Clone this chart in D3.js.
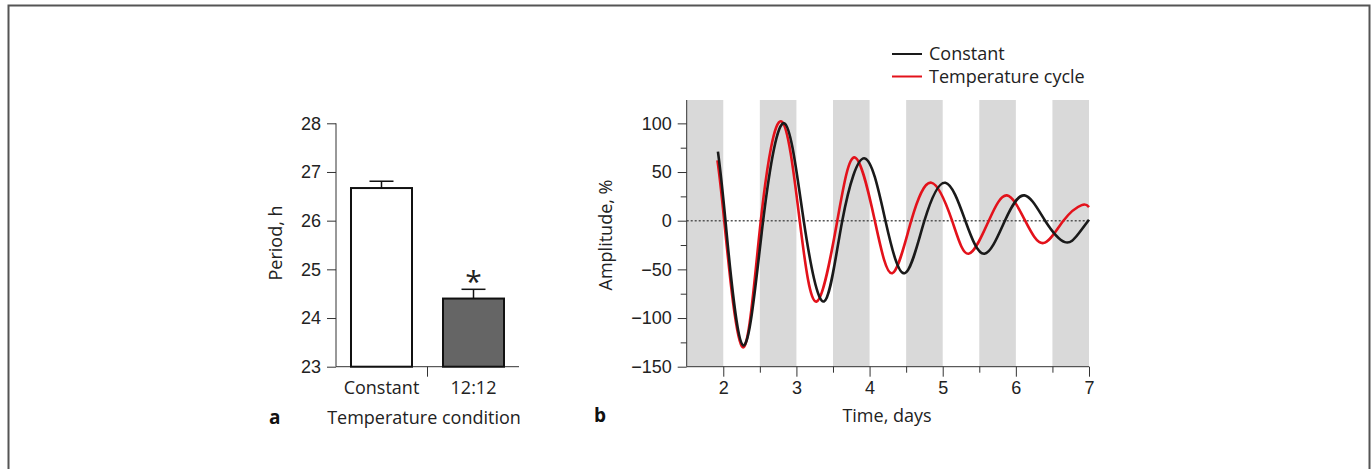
<!DOCTYPE html>
<html>
<head>
<meta charset="utf-8">
<script src="https://cdn.jsdelivr.net/npm/d3@7"></script>
<style>
  body { margin: 0; background: #fff; }
  svg { display: block; font-family: "Open Sans", sans-serif; }
  .tick text { font-size: 18px; fill: #222; }
  .tick line, .domain { stroke: #333; }
</style>
</head>
<body>
<svg width="1372" height="469"></svg>
<script>
// Panel a: period under each temperature condition
const conditions = ["Constant", "12:12"];
const periods = [26.67, 24.4];
const periodErrors = [0.14, 0.19];
const periodTicks = [23, 24, 25, 26, 27, 28];

// Panel b: detrended amplitude over time
const constantDays = [1.927, 2.03, 2.272, 2.545, 2.836, 3.1, 3.377, 3.627, 3.936, 4.217, 4.48, 4.75, 5.036, 5.309, 5.57, 5.85, 6.118, 6.4, 6.67, 6.85, 7.0];
const constantAmp  = [71, 0, -128, 0, 100, 0, -83, 0, 64, 0, -54, 0, 39, 0, -34, 0, 26, 0, -22, -14, 1];
const cycleDays = [1.92, 2.013, 2.264, 2.513, 2.795, 3.045, 3.277, 3.559, 3.8, 4.072, 4.31, 4.57, 4.845, 5.128, 5.354, 5.63, 5.877, 6.127, 6.377, 6.65, 6.9, 7.0];
const cycleAmp  = [62, 0, -130, 0, 102, 0, -83, 0, 65, 0, -54, 0, 39, 0, -34, 0, 26, 0, -23, 0, 16, 14];
const coldPhases = [[1.5, 2], [2.5, 3], [3.5, 4], [4.5, 5], [5.5, 6], [6.5, 7]];
const seriesNames = ["Constant", "Temperature cycle"];
const seriesColors = ["#1a1a1a", "#e3121b"];

const svg = d3.select("svg");

// outer frame
svg.append("rect")
  .attr("x", 8.5).attr("y", 5.5)
  .attr("width", 1361).attr("height", 500)
  .attr("fill", "none").attr("stroke", "#555").attr("stroke-width", 2);

// ---------- panel a ----------
const ya = d3.scaleLinear().domain([23, 28]).range([366.7, 123.3]);
const xa = d3.scaleBand().domain(conditions).range([336, 519])
  .paddingInner(0.337).paddingOuter(0.163);

const ga = svg.append("g");

ga.append("g")
  .attr("transform", "translate(336,0)")
  .call(d3.axisLeft(ya).tickValues(periodTicks).tickSize(9).tickPadding(6).tickFormat(d3.format("d")))
  .call(g => g.select(".domain").attr("d", `M0,${ya(28)}V${ya(23)}`));

// x baseline + middle divider tick
ga.append("line")
  .attr("x1", 336).attr("x2", 519)
  .attr("y1", ya(23)).attr("y2", ya(23))
  .attr("stroke", "#333");
ga.append("line")
  .attr("x1", 427.5).attr("x2", 427.5)
  .attr("y1", ya(23)).attr("y2", ya(23) + 10)
  .attr("stroke", "#333");

// error bars first, bars on top
conditions.forEach((c, i) => {
  const cx = xa(c) + xa.bandwidth() / 2;
  ga.append("line")
    .attr("x1", cx).attr("x2", cx)
    .attr("y1", ya(periods[i])).attr("y2", ya(periods[i] + periodErrors[i]))
    .attr("stroke", "#111").attr("stroke-width", 1.5);
  ga.append("line")
    .attr("x1", cx - 12).attr("x2", cx + 12)
    .attr("y1", ya(periods[i] + periodErrors[i])).attr("y2", ya(periods[i] + periodErrors[i]))
    .attr("stroke", "#111").attr("stroke-width", 1.5);
});

ga.selectAll("rect.bar")
  .data(conditions)
  .join("rect")
  .attr("class", "bar")
  .attr("x", d => xa(d))
  .attr("width", xa.bandwidth())
  .attr("y", (d, i) => ya(periods[i]))
  .attr("height", (d, i) => ya(23) - ya(periods[i]))
  .attr("fill", (d, i) => i === 0 ? "#fff" : "#656565")
  .attr("stroke", "#111").attr("stroke-width", 2);

ga.selectAll("text.cat")
  .data(conditions)
  .join("text")
  .attr("class", "cat")
  .attr("x", d => xa(d) + xa.bandwidth() / 2)
  .attr("y", 394)
  .attr("text-anchor", "middle")
  .attr("font-size", 18).attr("fill", "#222")
  .text(d => d);

ga.append("text")
  .attr("x", xa("12:12") + xa.bandwidth() / 2)
  .attr("y", 292)
  .attr("text-anchor", "middle")
  .attr("font-size", 30).attr("fill", "#222")
  .text("*");

ga.append("text")
  .attr("x", 424).attr("y", 424)
  .attr("text-anchor", "middle")
  .attr("font-size", 18).attr("fill", "#222")
  .text("Temperature condition");

ga.append("text")
  .attr("transform", "translate(282,243) rotate(-90)")
  .attr("text-anchor", "middle")
  .attr("font-size", 18).attr("fill", "#222")
  .text("Period, h");

ga.append("text")
  .attr("x", 269).attr("y", 424)
  .attr("font-size", 19).attr("font-weight", "bold").attr("fill", "#111")
  .text("a");

// ---------- panel b ----------
const xb = d3.scaleLinear().domain([1.5, 7]).range([686.7, 1089]);
const yb = d3.scaleLinear().domain([-150, 124]).range([366.7, 100]);

const gb = svg.append("g");

gb.selectAll("rect.phase")
  .data(coldPhases)
  .join("rect")
  .attr("class", "phase")
  .attr("x", d => xb(d[0]))
  .attr("width", d => xb(d[1]) - xb(d[0]))
  .attr("y", yb(124))
  .attr("height", yb(-150) - yb(124))
  .attr("fill", "#d9d9d9");

// zero line
gb.append("line")
  .attr("x1", xb(1.5)).attr("x2", xb(7))
  .attr("y1", yb(0)).attr("y2", yb(0))
  .attr("stroke", "#555").attr("stroke-width", 1.5)
  .attr("stroke-dasharray", "2,2");

// minor ticks
gb.append("g")
  .attr("transform", "translate(686.7,0)")
  .call(d3.axisLeft(yb).tickValues([-125, -75, -25, 25, 75]).tickSize(6).tickFormat(""))
  .call(g => g.select(".domain").remove());
gb.append("g")
  .attr("transform", `translate(0,${yb(-150)})`)
  .call(d3.axisBottom(xb).tickValues([2.5, 3.5, 4.5, 5.5, 6.5]).tickSize(6).tickFormat(""))
  .call(g => g.select(".domain").remove());

// major axes
gb.append("g")
  .attr("transform", "translate(686.7,0)")
  .call(d3.axisLeft(yb).tickValues([-150, -100, -50, 0, 50, 100]).tickSize(9).tickPadding(6)
    .tickFormat(d => d < 0 ? "\u2212" + Math.abs(d) : d))
  .call(g => g.select(".domain").attr("d", `M0,${yb(124)}V${yb(-150)}`));
gb.append("g")
  .attr("transform", `translate(0,${yb(-150)})`)
  .call(d3.axisBottom(xb).tickValues([2, 3, 4, 5, 6, 7]).tickSize(10).tickPadding(5).tickFormat(d3.format("d")))
  .call(g => g.select(".domain").attr("d", `M${xb(1.5)},0H${xb(7)}`));

const line = d3.line()
  .x(d => xb(d[0]))
  .y(d => yb(d[1]))
  .curve(d3.curveNatural);

const series = [
  d3.zip(cycleDays, cycleAmp),
  d3.zip(constantDays, constantAmp)
];
const seriesColorOrder = [seriesColors[1], seriesColors[0]];

gb.selectAll("path.trace")
  .data(series)
  .join("path")
  .attr("class", "trace")
  .attr("d", line)
  .attr("fill", "none")
  .attr("stroke", (d, i) => seriesColorOrder[i])
  .attr("stroke-width", 2.6);

// legend
const legend = gb.append("g").attr("transform", "translate(892,54)");
seriesNames.forEach((name, i) => {
  legend.append("line")
    .attr("x1", 0).attr("x2", 30)
    .attr("y1", i * 22.5).attr("y2", i * 22.5)
    .attr("stroke", seriesColors[i]).attr("stroke-width", 2);
  legend.append("text")
    .attr("x", 37).attr("y", i * 22.5)
    .attr("dy", "0.35em")
    .attr("font-size", 18).attr("fill", "#222")
    .text(name);
});

gb.append("text")
  .attr("x", 887).attr("y", 422)
  .attr("text-anchor", "middle")
  .attr("font-size", 18).attr("fill", "#222")
  .text("Time, days");

gb.append("text")
  .attr("transform", "translate(612,235) rotate(-90)")
  .attr("text-anchor", "middle")
  .attr("font-size", 18).attr("fill", "#222")
  .text("Amplitude, %");

gb.append("text")
  .attr("x", 594).attr("y", 422)
  .attr("font-size", 19).attr("font-weight", "bold").attr("fill", "#111")
  .text("b");
</script>
</body>
</html>
